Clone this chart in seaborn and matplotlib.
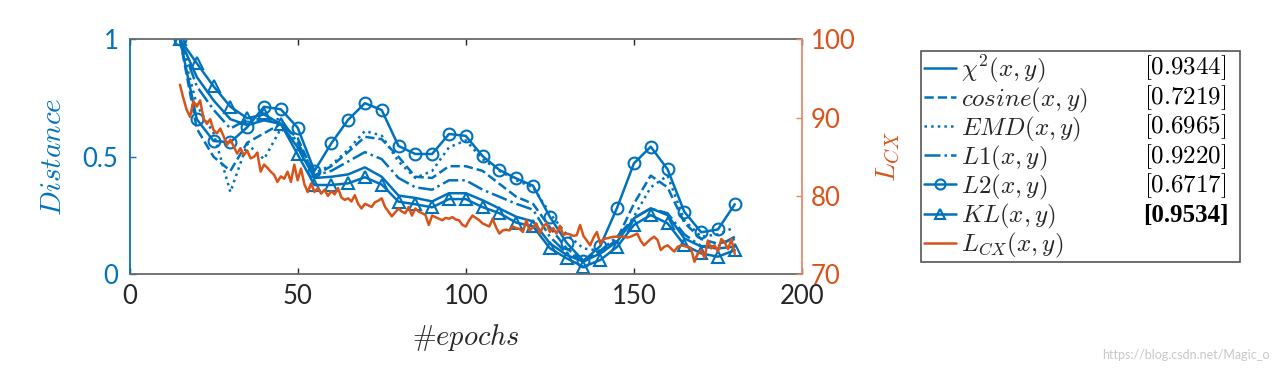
import matplotlib
matplotlib.use("Agg")
import matplotlib.pyplot as plt
from matplotlib.mathtext import MathTextParser
import seaborn as sns

BLUE = "#0072BD"
ORANGE = "#D95319"
GREY = "#262626"

# distance curves, sampled every 5 epochs
epochs = list(range(15, 181, 5))
chi2 = [1.0, 0.84, 0.74, 0.66, 0.635, 0.655, 0.64, 0.54, 0.41, 0.415, 0.425, 0.455,
        0.415, 0.335, 0.325, 0.31, 0.345, 0.345, 0.315, 0.28, 0.245, 0.225, 0.132, 0.082,
        0.054, 0.089, 0.139, 0.238, 0.281, 0.252, 0.153, 0.118, 0.11, 0.118]
cosine = [1.0, 0.62, 0.50, 0.44, 0.56, 0.60, 0.64, 0.58, 0.42, 0.46, 0.52, 0.585,
          0.575, 0.50, 0.415, 0.41, 0.46, 0.46, 0.44, 0.385, 0.33, 0.30, 0.20, 0.11,
          0.06, 0.09, 0.15, 0.30, 0.42, 0.37, 0.22, 0.15, 0.13, 0.15]
emd = [1.0, 0.72, 0.60, 0.35, 0.555, 0.49, 0.62, 0.56, 0.43, 0.465, 0.53, 0.61,
       0.59, 0.48, 0.41, 0.44, 0.54, 0.57, 0.49, 0.44, 0.40, 0.37, 0.26, 0.17,
       0.11, 0.10, 0.14, 0.245, 0.37, 0.42, 0.23, 0.16, 0.17, 0.20]
l1 = [1.0, 0.80, 0.70, 0.62, 0.66, 0.66, 0.66, 0.56, 0.42, 0.44, 0.48, 0.52,
      0.49, 0.41, 0.37, 0.36, 0.40, 0.40, 0.36, 0.33, 0.30, 0.275, 0.16, 0.09,
      0.06, 0.10, 0.16, 0.24, 0.28, 0.26, 0.17, 0.12, 0.12, 0.16]
l2 = [1.0, 0.66, 0.567, 0.562, 0.626, 0.713, 0.702, 0.624, 0.44, 0.557, 0.657, 0.728,
      0.699, 0.546, 0.512, 0.512, 0.597, 0.589, 0.503, 0.444, 0.408, 0.377, 0.245, 0.134,
      0.057, 0.12, 0.283, 0.472, 0.543, 0.447, 0.266, 0.179, 0.191, 0.298]
kl = [1.0, 0.898, 0.80, 0.713, 0.664, 0.68, 0.64, 0.51, 0.38, 0.38, 0.387, 0.413,
      0.382, 0.309, 0.298, 0.285, 0.32, 0.32, 0.286, 0.26, 0.22, 0.204, 0.111, 0.068,
      0.032, 0.061, 0.117, 0.21, 0.252, 0.217, 0.125, 0.089, 0.075, 0.103]

# L_CX loss, one value per epoch (15..180)
lcx_epochs = list(range(15, 181))
lcx = [94.2, 92.5, 91.0, 90.1, 92.1, 91.4, 92.2, 89.9, 89.2, 89.8,
       88.4, 88.0, 88.6, 87.6, 86.5, 87.2, 86.3, 85.4, 86.1, 85.2,
       85.8, 84.8, 85.0, 85.5, 83.1, 84.0, 83.6, 83.1, 82.7, 81.8,
       82.5, 82.2, 83.1, 81.8, 84.0, 82.0, 83.5, 81.5, 80.5, 81.6,
       80.5, 81.0, 80.3, 80.8, 80.0, 80.6, 80.2, 81.0, 79.8, 79.5,
       79.7, 79.3, 80.1, 79.0, 78.4, 79.0, 78.8, 78.6, 79.2, 79.4,
       79.7, 78.6, 78.0, 77.4, 77.9, 78.4, 78.0, 77.8, 78.6, 77.5,
       78.4, 78.0, 77.8, 77.6, 76.3, 77.5, 77.3, 77.1, 76.9, 77.2,
       77.1, 77.3, 77.0, 76.9, 76.3, 76.1, 76.9, 77.5, 77.2, 76.9,
       76.5, 76.3, 76.1, 77.1, 76.0, 75.2, 75.6, 75.7, 75.6, 76.1,
       75.9, 75.8, 75.4, 76.9, 75.6, 76.0, 76.5, 75.2, 76.1, 76.5,
       75.4, 75.9, 75.2, 76.2, 75.0, 75.2, 75.1, 74.9, 75.0, 76.3,
       74.9, 74.3, 73.7, 74.7, 75.4, 73.9, 74.5, 74.6, 74.7, 74.8,
       74.8, 74.8, 74.8, 74.7, 74.8, 75.0, 75.2, 74.3, 73.7, 74.1,
       74.5, 74.8, 74.4, 73.1, 73.5, 73.7, 73.3, 72.9, 73.5, 73.7,
       73.6, 73.5, 73.3, 71.6, 72.6, 73.1, 72.1, 74.3, 73.3, 73.7,
       72.9, 74.5, 74.1, 73.2, 74.5, 72.6]

names = [r"$\chi^2(x,y)$", r"$cosine(x,y)$", r"$EMD(x,y)$", r"$L1(x,y)$",
         r"$L2(x,y)$", r"$KL(x,y)$", r"$L_{CX}(x,y)$"]
scores = [r"$[0.9344]$", r"$[0.7219]$", r"$[0.6965]$", r"$[0.9220]$",
          r"$[0.6717]$", "[0.9534]"]

sns.set_style("ticks")
plt.rcParams["font.family"] = ["Lato", "DejaVu Sans"]
plt.rcParams["mathtext.fontset"] = "cm"

# mathtext has no \#, check whether a bare # parses
xlab = r"$#epochs$"
try:
    MathTextParser("agg").parse(xlab, dpi=100)
except Exception:
    xlab = r"$\mathrm{\#}epochs$"
    try:
        MathTextParser("agg").parse(xlab, dpi=100)
    except Exception:
        xlab = None

fig = plt.figure(figsize=(12.81, 3.72), dpi=100)
ax = fig.add_axes([0.1011, 0.2626, 0.5250, 0.6318])
ax2 = ax.twinx()

handles = []
styles = [("-", None), ("--", None), (":", None), ("-.", None), ("-", "o"), ("-", "^")]
for vals, (ls, mk) in zip([chi2, cosine, emd, l1, l2, kl], styles):
    kw = {}
    if mk:
        kw = dict(marker=mk, markersize=8.5, markerfacecolor="none",
                  markeredgecolor=BLUE, markeredgewidth=1.5)
    sns.lineplot(x=epochs, y=vals, ax=ax, color=BLUE, lw=1.8, ls=ls, **kw)
    handles.append(ax.lines[-1])

sns.lineplot(x=lcx_epochs, y=lcx, ax=ax2, color=ORANGE, lw=1.8)
handles.append(ax2.lines[-1])

ax.set_xlim(0, 200)
ax.set_ylim(0, 1)
ax2.set_ylim(70, 100)
ax.set_xticks([0, 50, 100, 150, 200])
ax.set_yticks([0, 0.5, 1])
ax.set_yticklabels(["0", "0.5", "1"])
ax2.set_yticks([70, 80, 90, 100])

ax.tick_params(axis="x", direction="in", top=True, length=4, width=1, color=GREY,
               labelsize=18.5, labelcolor=GREY, pad=7)
ax.tick_params(axis="y", direction="in", length=4, width=1, color=BLUE,
               labelsize=18.5, labelcolor=BLUE, pad=8)
ax2.tick_params(axis="y", direction="in", length=4, width=1, color="#E8896A",
                labelsize=18.5, labelcolor=ORANGE, pad=6)

for s in ["top", "bottom"]:
    ax.spines[s].set_color("#6a6a6a")
    ax.spines[s].set_linewidth(1.3)
    ax2.spines[s].set_visible(False)
ax.spines["left"].set_color(BLUE)
ax.spines["left"].set_linewidth(1.3)
ax.spines["right"].set_visible(False)
ax2.spines["left"].set_visible(False)
ax2.spines["right"].set_color("#E8896A")
ax2.spines["right"].set_linewidth(1.3)

if xlab is not None:
    ax.set_xlabel(xlab, fontsize=20.5, color=GREY, labelpad=9)
else:
    ax.set_xlabel("#epochs", fontsize=20.5, color=GREY, labelpad=9,
                  family="DejaVu Serif", style="italic")
ax.set_ylabel(r"$Distance$", fontsize=21, color=BLUE, labelpad=12)
ax2.set_ylabel(r"$L_{CX}$", fontsize=20, color=ORANGE, labelpad=14)

leg = fig.legend(handles, names, loc="upper left",
                 bbox_to_anchor=(0.719, 0.2965, 0.249, 0.566), mode="expand",
                 fontsize=18, frameon=True, fancybox=False, edgecolor="#555555",
                 framealpha=1, handlelength=1.3, handletextpad=0.2, labelspacing=0.0,
                 borderpad=0.1, borderaxespad=0, markerscale=0.85, numpoints=1)
leg.get_frame().set_linewidth(1.2)

# score column inside the legend box, the best one in bold
row_y = [0.817, 0.737, 0.659, 0.578, 0.500, 0.4215]
for i, (y, txt) in enumerate(zip(row_y, scores)):
    if i == len(scores) - 1:
        fig.text(1186 / 1281, y, txt, fontsize=18, color="black", ha="center",
                 va="center", zorder=10, family="Liberation Serif", weight="bold")
    else:
        fig.text(1185 / 1281, y, txt, fontsize=18, color="black", ha="center",
                 va="center", zorder=10)

fig.text(1270 / 1281, 0.045, "https://blog.csdn.net/Magic_o", fontsize=9,
         color="#c8c8c8", ha="right", va="center")

fig.savefig("out.png", dpi=100)
